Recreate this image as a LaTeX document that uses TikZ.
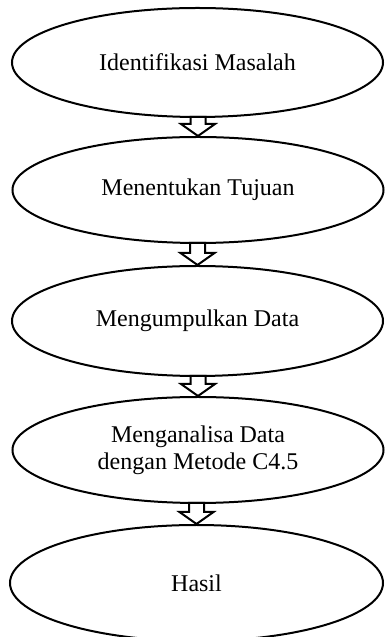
\documentclass[tikz,border=0pt]{standalone}
\usepackage{fontspec}
\setmainfont{Liberation Serif}
\usetikzlibrary{shapes.geometric,calc}
\newcommand\blockarr[2]{%
  \draw[hollow] let \p1=(#1.south), \p2=(#2.north) in
    (\x2-7.5,\y1+1) -- (\x2-7.5,\y2+12) -- (\x2-17,\y2+12) -- (\x2,\y2)
    -- (\x2+17,\y2+12) -- (\x2+7.5,\y2+12) -- (\x2+7.5,\y1+1) -- cycle;}
\begin{document}
\begin{tikzpicture}[x=1pt,y=1pt,
  stage/.style={ellipse,draw,line width=2pt,inner sep=0pt,align=center,
    font=\fontsize{24}{27}\selectfont,minimum width=371pt},
  hollow/.style={draw,line width=2pt,fill=white,line join=miter}]
\useasboundingbox (0,0) rectangle (384,637);
\node[stage,minimum height=109pt] (e1) at (197.5,574.5) {Identifikasi Masalah};
\node[stage,minimum height=106pt] (e2) at (198,447) {Menentukan Tujuan};
\node[stage,minimum height=110pt] (e3) at (197.5,316) {Mengumpulkan Data};
\node[stage,minimum height=106pt] (e4) at (198,187) {Menganalisa Data\\dengan Metode C4.5};
\node[stage,minimum height=116pt,minimum width=373pt] (e5) at (196.5,54) {Hasil};
\blockarr{e1}{e2}
\blockarr{e2}{e3}
\blockarr{e3}{e4}
\blockarr{e4}{e5}
\end{tikzpicture}
\end{document}
